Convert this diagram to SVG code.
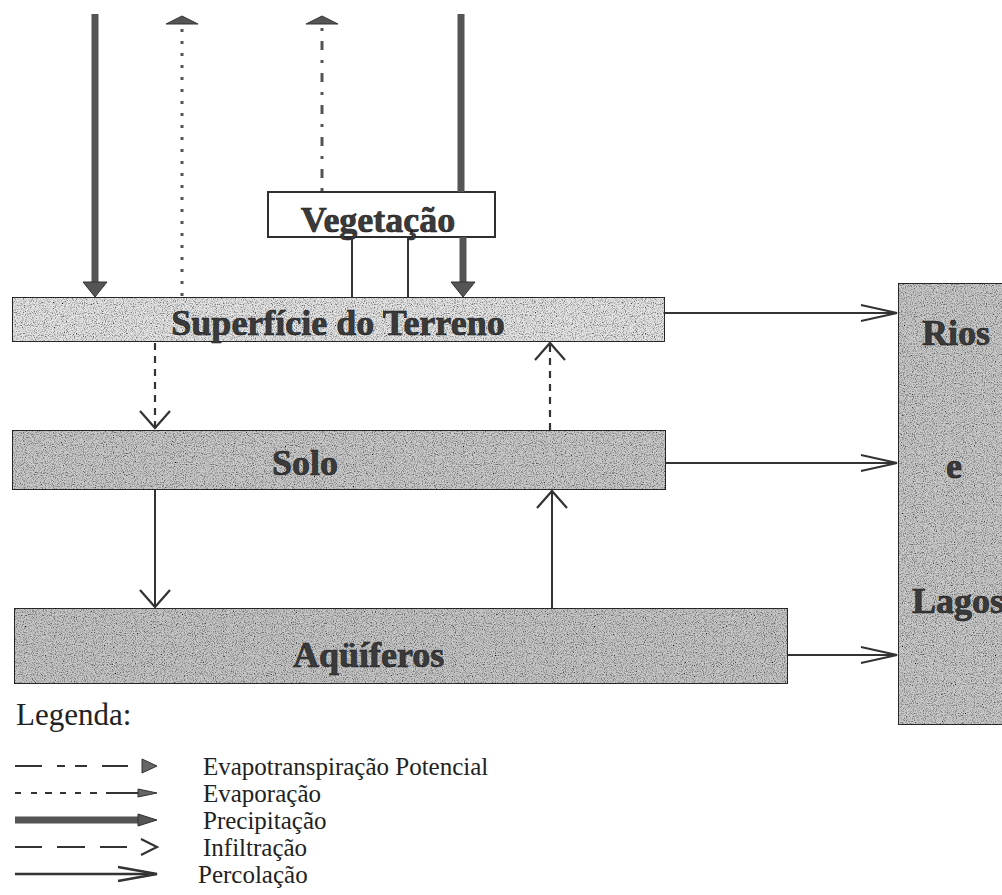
<svg xmlns="http://www.w3.org/2000/svg" width="1002" height="895" viewBox="0 0 1002 895">
<style>
.box{stroke:#2e2e2e;stroke-width:2}
.lbl{font-family:"Liberation Serif","Times New Roman",serif;font-weight:bold;font-size:36px;fill:#3a3a3a;stroke:#1a1a1a;stroke-width:0.6}
.leg{font-family:"Liberation Serif","Times New Roman",serif;font-size:25px;fill:#222}
.thin{stroke:#333;stroke-width:2;fill:none}
.dash{stroke:#333;stroke-width:2.2;fill:none;stroke-dasharray:7 6}
.dots{stroke:#555;stroke-width:3;fill:none;stroke-dasharray:3 9}
.evt{stroke:#555;stroke-width:3;fill:none;stroke-dasharray:3 10 9 10}
.thick{stroke:#555;stroke-width:7;fill:none}
.head{fill:#555;stroke:#333;stroke-width:1}
</style>
<defs>
<filter id="grain" x="0" y="0" width="100%" height="100%">
<feTurbulence type="fractalNoise" baseFrequency="0.9" numOctaves="2" seed="3" result="n"/>
<feColorMatrix in="n" type="matrix" values="0 0 0 0 0  0 0 0 0 0  0 0 0 0 0  0 0 0 -2.2 1.25" result="d"/>
<feComposite in="d" in2="SourceGraphic" operator="in" result="dd"/>
<feMerge><feMergeNode in="SourceGraphic"/><feMergeNode in="dd"/></feMerge>
</filter>
<marker id="vhead" markerUnits="userSpaceOnUse" markerWidth="20" markerHeight="34" refX="18" refY="17" orient="auto" viewBox="0 0 20 34">
<path d="M1,2 L18,17 L1,32" fill="none" stroke="#333" stroke-width="2.2"/>
</marker>
<marker id="hhead" markerUnits="userSpaceOnUse" markerWidth="40" markerHeight="20" refX="37" refY="10" orient="auto" viewBox="0 0 40 20">
<path d="M1,2 L37,10 L1,18" fill="none" stroke="#333" stroke-width="2"/>
</marker>
</defs>
<rect width="1002" height="895" fill="#fff"/>

<g id="node-superficie">
<rect class="box" x="12" y="297" width="653" height="45" fill="#e4e4e4" filter="url(#grain)"/>
<text class="lbl" x="338" y="335" text-anchor="middle">Superfície do Terreno</text>
</g>
<g id="node-vegetacao">
<rect class="box" x="268" y="192" width="227" height="45" fill="#fff"/>
<text class="lbl" x="378" y="232" text-anchor="middle">Vegetação</text>
</g>
<g id="node-solo">
<rect class="box" x="12" y="430" width="654" height="60" fill="#c9c9c9" filter="url(#grain)"/>
<text class="lbl" x="272" y="475">Solo</text>
</g>
<g id="node-aquiferos">
<rect class="box" x="14" y="608" width="774" height="76" fill="#c6c6c6" filter="url(#grain)"/>
<text class="lbl" x="293" y="667">Aqüíferos</text>
</g>
<g id="node-rios">
<rect class="box" x="898" y="283" width="120" height="442" fill="#c9c9c9" filter="url(#grain)"/>
<text class="lbl" x="922" y="345">Rios</text>
<text class="lbl" x="946" y="478">e</text>
<text class="lbl" x="912" y="613">Lagos</text>
</g>

<g id="connectors">
<line class="thick" x1="95" y1="14" x2="95" y2="284"/>
<polygon class="head" points="83,282 107,282 95,297"/>
<line class="thick" x1="461" y1="14" x2="461" y2="192"/>
<line class="thick" x1="463" y1="237" x2="463" y2="284"/>
<polygon class="head" points="451,282 475,282 463,297"/>
<line class="dots" x1="182" y1="296" x2="182" y2="28"/>
<polygon class="head" points="166,24 198,24 182,16"/>
<line class="evt" x1="322" y1="191" x2="322" y2="28"/>
<polygon class="head" points="306,24 338,24 322,16"/>
<line class="thin" x1="352" y1="237" x2="352" y2="297"/>
<line class="thin" x1="408" y1="237" x2="408" y2="297"/>
<line class="dash" x1="155" y1="343" x2="155" y2="428" marker-end="url(#vhead)"/>
<line class="dash" x1="550" y1="430" x2="550" y2="343" marker-end="url(#vhead)"/>
<line class="thin" x1="155" y1="490" x2="155" y2="607" marker-end="url(#vhead)"/>
<line class="thin" x1="552" y1="608" x2="552" y2="491" marker-end="url(#vhead)"/>
<line class="thin" x1="665" y1="313" x2="897" y2="313" marker-end="url(#hhead)"/>
<line class="thin" x1="666" y1="463" x2="897" y2="463" marker-end="url(#hhead)"/>
<line class="thin" x1="788" y1="655" x2="897" y2="655" marker-end="url(#hhead)"/>
</g>

<g id="legend">
<text class="leg" x="16" y="725" style="font-size:31px">Legenda:</text>
<path d="M15,766 H42 M57,766 H65 M75,766 H87 M102,766 H128" stroke="#333" stroke-width="2" fill="none"/>
<polygon points="142,759 157,766 142,773" fill="#666" stroke="#333"/>
<path d="M15,793 H21 M31,793 H37 M45,793 H52 M60,793 H66 M75,793 H81 M90,793 H97 M106,793 H142" stroke="#333" stroke-width="1.8" fill="none"/>
<polygon points="138,789 157,793 138,797" fill="#666" stroke="#333"/>
<line x1="15" y1="820" x2="142" y2="820" stroke="#555" stroke-width="7"/>
<polygon points="138,814 157,820 138,826" fill="#555" stroke="#333"/>
<path d="M15,847 H42 M57,847 H85 M100,847 H127" stroke="#333" stroke-width="2" fill="none"/>
<path d="M141,839 L157,847 L141,855" stroke="#333" stroke-width="2.2" fill="none"/>
<line x1="15" y1="874" x2="150" y2="874" stroke="#333" stroke-width="2.5"/>
<path d="M118,867 L157,874 L118,881" stroke="#333" stroke-width="2.5" fill="none"/>
<text class="leg" x="203" y="775">Evapotranspiração Potencial</text>
<text class="leg" x="203" y="802">Evaporação</text>
<text class="leg" x="203" y="829">Precipitação</text>
<text class="leg" x="203" y="856">Infiltração</text>
<text class="leg" x="198" y="883">Percolação</text>
</g>
</svg>
